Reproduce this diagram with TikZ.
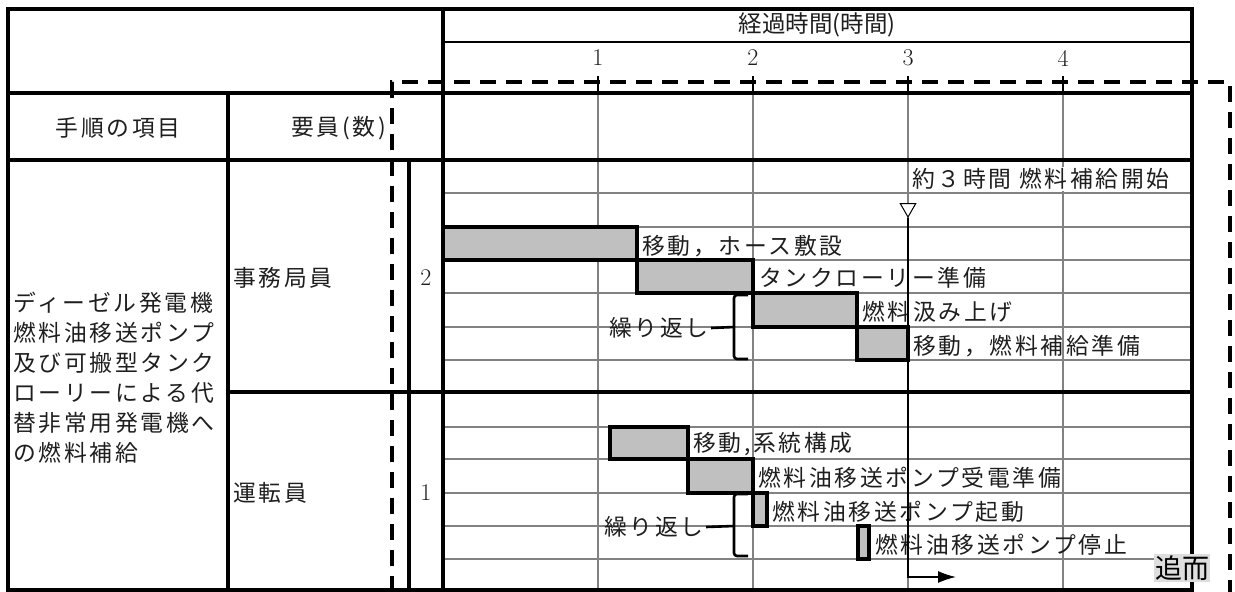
\documentclass[tikz,border=0pt]{standalone}
\usepackage{fontspec}
\newfontfamily\jp[LetterSpace=12]{Noto Sans CJK JP}
\newfontfamily\jpn{Noto Sans CJK JP}
\newfontfamily\jpb[AutoFakeBold=2.5]{Noto Sans CJK JP}
\usetikzlibrary{arrows.meta,shapes.geometric}
\definecolor{gridgray}{RGB}{130,130,130}
\definecolor{bargray}{RGB}{192,192,192}
\definecolor{tagbg}{RGB}{222,222,222}
\definecolor{txt}{RGB}{30,30,30}
\begin{document}
\begin{tikzpicture}[x=1pt,y=-1pt,
  frame/.style={line width=3.4pt},
  gridline/.style={line width=1.6pt, draw=gridgray},
  bar/.style={draw=black, line width=3.6pt, fill=bargray},
  lbl/.style={anchor=west, inner sep=0pt, text=txt, font=\jp\fontsize{22.8}{27}\selectfont},
  hdr/.style={inner sep=0pt, text=txt, font=\jp\fontsize{22.8}{27}\selectfont},
  num/.style={inner sep=0pt, text=txt, font=\fontsize{24}{28}\selectfont},
  brace/.style={line width=2.6pt, rounded corners=3pt},
  dashbox/.style={line width=3.8pt, dash pattern=on 16pt off 10pt},
]
\useasboundingbox (0,0) rectangle (1235,592);

% grid lines
\foreach \y in {193,227,260,293,327,360,427,459,493,526,559}
  \draw[gridline] (443,\y) -- (1192,\y);
\foreach \x in {598,753,908,1063}
  \draw[gridline] (\x,93) -- (\x,590);

% first row text (covers grid lines)
\node[fill=white, inner xsep=2pt, inner ysep=1pt, anchor=east, text=txt,
      font=\jp\fontsize{22.8}{27}\selectfont] (start) at (1172,179) {約３時間 燃料補給開始};

% bars
\draw[bar] (443,227) rectangle (637,260);
\draw[bar] (637,260) rectangle (753,293);
\draw[bar] (753,293) rectangle (857,327);
\draw[bar] (857,327) rectangle (908,360);
\draw[bar] (610,427) rectangle (688,459);
\draw[bar] (688,459) rectangle (753,493);
\draw[bar] (753,493) rectangle (767,526);
\draw[bar] (858,526) rectangle (869,559);

% bar labels
\node[lbl] (l1) at (642,246) {移動，ホース敷設};
\node[lbl] (l2) at (759,278) {タンクローリー準備};
\node[lbl] (l3) at (862,312) {燃料汲み上げ};
\node[lbl] (l4) at (913,346) {移動，燃料補給準備};
\node[lbl] (m1) at (693,444) {移動,系統構成};
\node[lbl] (m2) at (758,478) {燃料油移送ポンプ受電準備};
\node[lbl] (m3) at (772,512) {燃料油移送ポンプ起動};
\node[lbl] (m4) at (875,545) {燃料油移送ポンプ停止};

% repeat brackets
\node[lbl, anchor=east] (r1) at (709,328) {繰り返し};
\node[lbl, anchor=east] (r2) at (704,527) {繰り返し};
\coordinate (r1t) at (748,295);
\coordinate (r1b) at (748,359);
\coordinate (r1m) at (734,327);
\draw[brace] (r1t) -- (734,295) -- (734,359) -- (r1b);
\draw[line width=2.6pt] (r1.east) ++(2,0) -- (r1m);
\coordinate (r2t) at (748,494);
\coordinate (r2b) at (748,556);
\coordinate (r2m) at (734,526);
\draw[brace] (r2t) -- (734,494) -- (734,556) -- (r2b);
\draw[line width=2.6pt] (r2.east) ++(2,0) -- (r2m);

% 3-hour marker
\node[draw, fill=white, regular polygon, regular polygon sides=3, shape border rotate=180,
      minimum size=18pt, inner sep=0pt, line width=1pt] (tri) at (908,208) {};
\coordinate (turn) at (908,577);
\coordinate (aend) at (956,577);
\draw[line width=1.5pt, -{Latex[length=18pt,width=12pt]}] (tri.corner 1) -- (turn) -- (aend);

% frame lines
\draw[frame] (8,9) rectangle (1192,590);
\draw[frame] (8,93) -- (1192,93);
\draw[frame] (8,160) -- (1192,160);
\draw[frame] (228,392) -- (1192,392);
\draw[frame] (443,9) -- (443,590);
\draw[frame] (228,93) -- (228,590);
\draw[frame] (409,160) -- (409,590);
\draw[line width=2.6pt] (443,42) -- (1192,42);
\foreach \x in {598,753,908,1063}
  \draw[line width=2.2pt] (\x,76) -- (\x,93);

% header texts
\node[inner sep=0pt, text=txt, font=\jpn\fontsize{23.5}{27}\selectfont] (elapsed) at (817,25) {経過時間(時間)};
\node[num] (h1) at (598,58) {1};
\node[num] (h2) at (753,58) {2};
\node[num] (h3) at (908,58) {3};
\node[num] (h4) at (1063,58) {4};
\node[hdr] (proc) at (118,128) {手順の項目};
\node[hdr, anchor=east] (staff) at (386,128) {要員(数)};
\node[lbl] (office) at (233,278) {事務局員};
\node[lbl] (oper) at (233,493) {運転員};
\node[num] (n2) at (426,278) {2};
\node[num] (n1) at (426,493) {1};
\node[lbl, align=left, font=\jp\fontsize{22.8}{30}\selectfont] (item) at (13,378)
  {ディーゼル発電機\\燃料油移送ポンプ\\及び可搬型タンク\\ローリーによる代\\替非常用発電機へ\\の燃料補給};

% dashed boundary
\draw[dashbox] (392,592) -- (392,82) -- (1230,82) -- (1230,592);

% tag
\node[fill=tagbg, inner xsep=1pt, inner ysep=2pt, font=\jpb\fontsize{27}{29}\selectfont] (tag) at (1182,568) {追而};
\end{tikzpicture}
\end{document}
